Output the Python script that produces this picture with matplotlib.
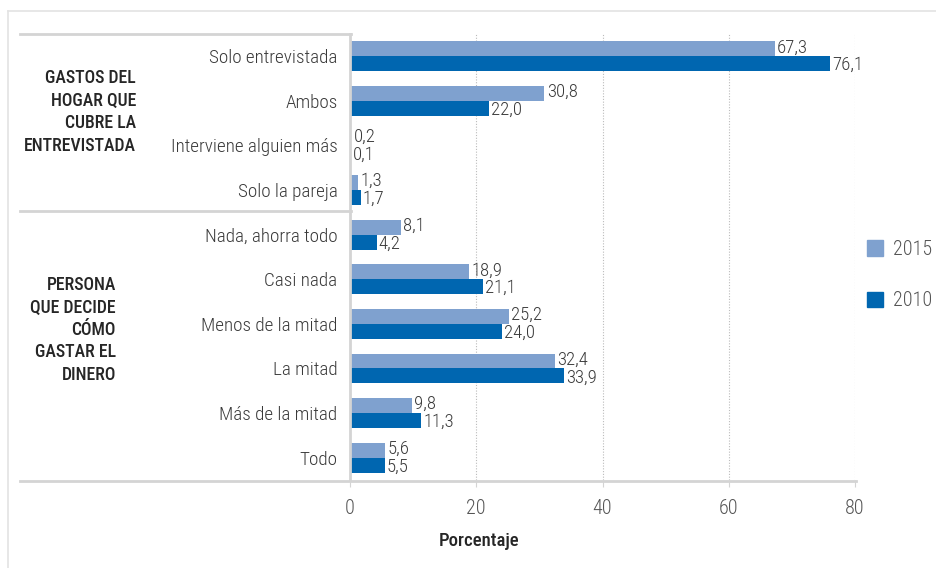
import matplotlib
matplotlib.use("Agg")
import matplotlib.pyplot as plt
from matplotlib.lines import Line2D
from matplotlib.patches import Patch

plt.rcParams['font.family'] = ['Roboto Condensed', 'Roboto', 'DejaVu Sans']

categories = [
    "Solo entrevistada", "Ambos", "Interviene alguien más", "Solo la pareja",
    "Nada, ahorra todo", "Casi nada", "Menos de la mitad", "La mitad",
    "Más de la mitad", "Todo",
]
values_2015 = [67.3, 30.8, 0.2, 1.3, 8.1, 18.9, 25.2, 32.4, 9.8, 5.6]
values_2010 = [76.1, 22.0, 0.1, 1.7, 4.2, 21.1, 24.0, 33.9, 11.3, 5.5]
group_labels = ["GASTOS DEL\nHOGAR QUE\nCUBRE LA\nENTREVISTADA",
                "PERSONA\nQUE DECIDE\nCÓMO\nGASTAR EL\nDINERO"]
x_ticks = [0, 20, 40, 60, 80]

c2015 = "#7fa1cf"
c2010 = "#0066b0"
grey = "#d4d4d4"
text_c = "#3a3a3a"

W, H = 937, 568
fig = plt.figure(figsize=(W / 100, H / 100), dpi=100)


def fx(px):
    return px / W


def fy(py):
    return 1 - py / H


ax = fig.add_axes([fx(350), fy(480), fx(855) - fx(350), fy(34) - fy(480)])

pos = list(range(len(categories)))
h = 0.335
ax.barh([p - h / 2 for p in pos], values_2015, height=h, color=c2015, label="2015")
ax.barh([p + h / 2 for p in pos], values_2010, height=h, color=c2010, label="2010")

for p, v in zip(pos, values_2015):
    ax.text(v + 0.35, p - 0.2, f"{v:.1f}".replace(".", ","), va="center", ha="left",
            fontsize=13.5, color=text_c, weight=300)
for p, v in zip(pos, values_2010):
    ax.text(v + 0.35, p + 0.2, f"{v:.1f}".replace(".", ","), va="center", ha="left",
            fontsize=13.5, color=text_c, weight=300)

ax.set_xlim(0, 80)
ax.set_ylim(9.5, -0.5)
ax.set_yticks(pos)
ax.set_yticklabels(categories, fontsize=13.8, color=text_c, weight=300)
ax.set_xticks(x_ticks)
ax.set_xticklabels([str(t) for t in x_ticks], fontsize=14.5, color="#555555", weight=300)
ax.tick_params(axis="y", length=0, pad=9)
ax.tick_params(axis="x", length=5, color=grey, pad=9)
for t in x_ticks[1:]:
    ax.axvline(t, color="#bbbbbb", lw=0.8, ls=(0, (1, 1.5)), zorder=0)
for s in ["top", "right", "bottom"]:
    ax.spines[s].set_visible(False)
ax.spines["left"].set_color(grey)
ax.spines["left"].set_linewidth(2)

# frame and group separators in figure coordinates
fig.add_artist(Line2D([fx(8), 1], [fy(11), fy(11)], color="#e3e3e3", lw=1.2))
fig.add_artist(Line2D([fx(8), fx(8)], [fy(11), 0], color="#e3e3e3", lw=1.2))
fig.add_artist(Line2D([fx(20), fx(351)], [fy(34), fy(34)], color=grey, lw=2))
fig.add_artist(Line2D([fx(20), fx(351)], [fy(211), fy(211)], color=grey, lw=2))
fig.add_artist(Line2D([fx(20), fx(856)], [fy(481), fy(481)], color=grey, lw=2))

fig.text(fx(136), fy(112), group_labels[0], ha="right", va="center", fontsize=12.8,
         color="#262626", weight=500, linespacing=1.32)
fig.text(fx(116), fy(330), group_labels[1], ha="right", va="center", fontsize=12.8,
         color="#262626", weight=500, linespacing=1.32)
fig.text(fx(479), fy(541), "Porcentaje", ha="center", va="center", fontsize=13.5,
         color="#262626", weight=500)

fig.legend(handles=[Patch(color=c2015, label="2015"), Patch(color=c2010, label="2010")],
           loc="upper left", bbox_to_anchor=(fx(867), fy(240)), frameon=False,
           labelcolor="#555555", handlelength=0.8, handleheight=0.8,
           labelspacing=1.6, handletextpad=0.5, borderpad=0, borderaxespad=0,
           prop={"weight": 300, "size": 14.5})

fig.savefig("out.png", dpi=100)
